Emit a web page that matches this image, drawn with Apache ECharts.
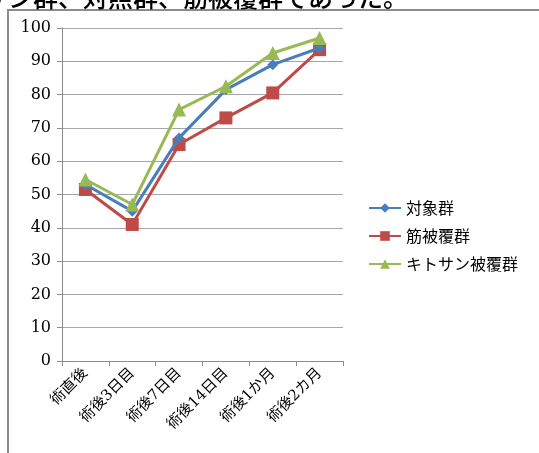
<!DOCTYPE html>
<html>
<head>
<meta charset="utf-8">
<script src="https://cdn.jsdelivr.net/npm/echarts@6/dist/echarts.min.js"></script>
<style>
  html, body { margin: 0; padding: 0; background: #fff; }
  #chart { width: 539px; height: 453px; }
</style>
</head>
<body>
<div id="chart"></div>
<script>
const categories = ['術直後', '術後3日目', '術後7日目', '術後14日目', '術後1か月', '術後2カ月']
const seriesNames = ['対象群', '筋被覆群', 'キトサン被覆群']
const controlValues = [53, 45, 67, 81.5, 89, 94]
const muscleValues = [51.5, 41, 65, 73, 80.5, 93.5]
const chitosanValues = [54.5, 47, 75.5, 82.5, 92.5, 97]
const yTicks = { min: 0, max: 100, interval: 10 }
const captionText = 'キトサン群、対照群、筋被覆群であった。'

const serifFont = '"DejaVu Serif", "Liberation Serif", "Noto Sans CJK JP", serif'
const colors = ['#4a7ebb', '#be4b48', '#98b954']
const symbols = ['diamond', 'rect', 'triangle']
const symbolSizes = [11, 13, 14]
const valueSets = [controlValues, muscleValues, chitosanValues]

const chart = echarts.init(document.getElementById('chart'))

const option = {
  animation: false,
  graphic: [
    {
      // 上の本文がはみ出して下半分だけ見えている
      type: 'text',
      x: -67,
      y: 10,
      style: {
        text: captionText,
        fontFamily: '"Noto Sans CJK JP", sans-serif',
        fontSize: 25,
        fontWeight: 500,
        fill: '#000',
        verticalAlign: 'bottom'
      },
      silent: true
    },
    {
      type: 'rect',
      shape: { x: 8, y: 10, width: 600, height: 500 },
      style: { fill: '#fff', stroke: '#8c8c8c', lineWidth: 2 },
      silent: true,
      z: -10
    }
  ],
  legend: {
    orient: 'vertical',
    left: 363,
    top: 195,
    itemWidth: 32,
    itemHeight: 12,
    itemGap: 12,
    textStyle: { fontFamily: '"Noto Sans CJK JP", sans-serif', fontSize: 16, color: '#000' },
    data: seriesNames
  },
  grid: { left: 62, right: 196, top: 28, bottom: 92, containLabel: false },
  xAxis: {
    type: 'category',
    data: categories,
    boundaryGap: true,
    axisLine: { lineStyle: { color: '#8c8c8c', width: 1 } },
    axisTick: { show: true, alignWithLabel: false, length: 5, lineStyle: { color: '#8c8c8c' } },
    axisLabel: {
      rotate: 45,
      interval: 0,
      margin: 10,
      fontFamily: serifFont,
      fontSize: 15,
      color: '#000'
    },
    splitLine: { show: false }
  },
  yAxis: {
    type: 'value',
    min: yTicks.min,
    max: yTicks.max,
    interval: yTicks.interval,
    axisLine: { show: true, lineStyle: { color: '#8c8c8c', width: 1 } },
    axisTick: { show: true, length: 5, lineStyle: { color: '#8c8c8c' } },
    axisLabel: { fontFamily: serifFont, fontSize: 16, color: '#000', margin: 11 },
    splitLine: { show: true, lineStyle: { color: '#a6a6a6', width: 1 } }
  },
  series: seriesNames.map((name, i) => ({
    name,
    type: 'line',
    data: valueSets[i],
    symbol: symbols[i],
    symbolSize: symbolSizes[i],
    itemStyle: { color: colors[i] },
    lineStyle: { color: colors[i], width: 3 },
    z: i === 1 ? 2 : (i === 0 ? 3 : 4)
  }))
}

chart.setOption(option)
</script>
</body>
</html>
